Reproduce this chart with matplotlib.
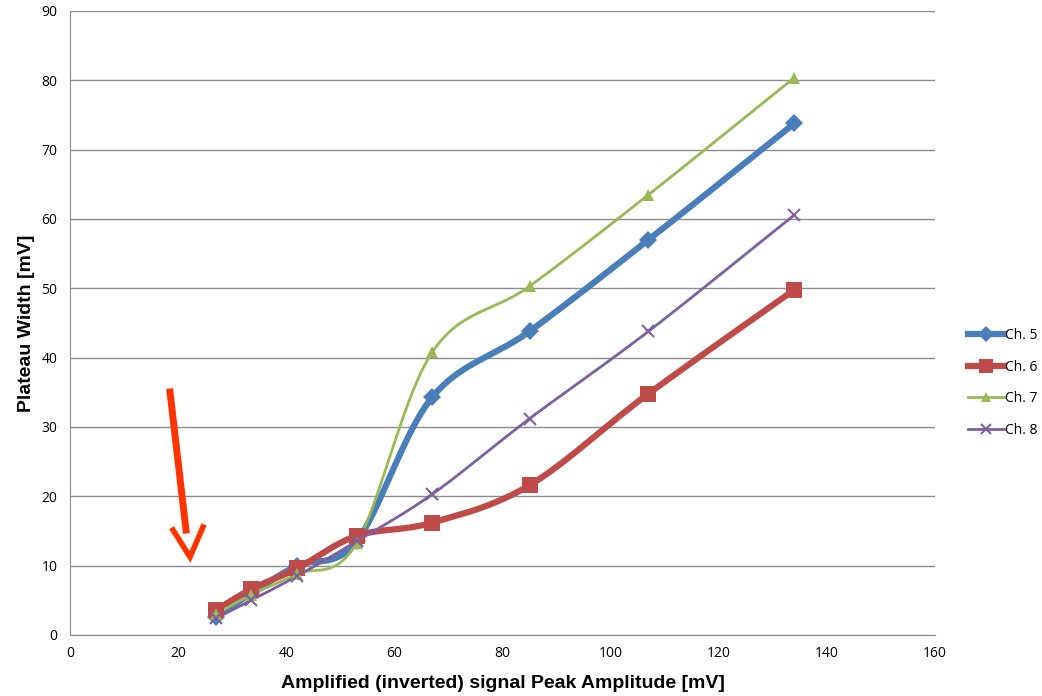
import numpy as np
import matplotlib
matplotlib.use("Agg")
import matplotlib.pyplot as plt
from matplotlib.lines import Line2D

plt.rcParams['font.family'] = ['Open Sans', 'DejaVu Sans']

amplitude = [27, 33.5, 42, 53, 67, 85, 107, 134]
ch5 = [2.6, 6.0, 10.0, 13.5, 34.3, 43.8, 57.0, 73.8]
ch6 = [3.6, 6.6, 9.6, 14.3, 16.2, 21.6, 34.8, 49.8]
ch7 = [3.0, 5.8, 8.8, 13.2, 40.8, 50.3, 63.5, 80.4]
ch8 = [2.4, 5.0, 8.5, 13.5, 20.3, 31.2, 43.8, 60.6]
labels = ['Ch. 5', 'Ch. 6', 'Ch. 7', 'Ch. 8']


def smooth(x, y, n=40):
    x = np.asarray(x, float); y = np.asarray(y, float)
    P = np.column_stack([x, y])
    out = [P[0]]
    for i in range(len(P) - 1):
        p0 = P[i - 1] if i > 0 else P[i]
        p1 = P[i]; p2 = P[i + 1]
        p3 = P[i + 2] if i + 2 < len(P) else P[i + 1]
        c1 = p1 + (p2 - p0) / 6.0
        c2 = p2 - (p3 - p1) / 6.0
        t = np.linspace(0, 1, n)[1:, None]
        b = ((1 - t) ** 3) * p1 + 3 * ((1 - t) ** 2) * t * c1 + 3 * (1 - t) * t ** 2 * c2 + t ** 3 * p2
        out.extend(b)
    out = np.array(out)
    return out[:, 0], out[:, 1]


fig = plt.figure(figsize=(10.42, 6.96), dpi=100)
ax = fig.add_axes([70 / 1042, 1 - 635 / 696, (935 - 70) / 1042, (635 - 11) / 696])

styles = [
    dict(color='#4A7EBB', lw=4.5, marker='D', ms=9.5, mew=0),
    dict(color='#BE4B48', lw=4.5, marker='s', ms=11.5, mew=0),
    dict(color='#98B954', lw=2.0, marker='^', ms=8, mew=0),
    dict(color='#7D60A0', lw=2.0, marker='x', ms=8, mew=1.5),
]
handles = []
for ys, st, lab in zip([ch5, ch6, ch7, ch8], styles, labels):
    sx, sy = smooth(amplitude, ys)
    ax.plot(sx, sy, color=st['color'], lw=st['lw'], solid_capstyle='round', zorder=3)
    ax.plot(amplitude, ys, ls='none', marker=st['marker'], ms=st['ms'], color=st['color'],
            mew=st['mew'], zorder=4)
    handles.append(Line2D([0], [0], color=st['color'], lw=st['lw'], marker=st['marker'],
                          ms=st['ms'] * 0.85, mew=st['mew']))

ax.set_xlim(0, 160)
ax.set_ylim(0, 90)
ax.set_xticks(range(0, 161, 20))
ax.set_yticks(range(0, 91, 10))
ax.yaxis.grid(True, color='#8C8C8C', lw=1.0)
ax.set_axisbelow(True)
for s in ['top', 'right']:
    ax.spines[s].set_visible(False)
for s in ['left', 'bottom']:
    ax.spines[s].set_color('#8C8C8C')
ax.tick_params(axis='both', labelsize=10, length=0)
ax.tick_params(axis='y', pad=9)
ax.tick_params(axis='x', pad=8)
ax.set_xlabel('Amplified (inverted) signal Peak Amplitude [mV]', fontsize=14, fontweight='bold',
              labelpad=10, family=['Liberation Sans', 'DejaVu Sans'])
ax.set_ylabel('Plateau Width [mV]', fontsize=14, fontweight='bold', labelpad=5,
              family=['Liberation Sans', 'DejaVu Sans'])

leg = fig.legend(handles, labels, loc='center left', bbox_to_anchor=(962 / 1042, 1 - 383 / 696),
                 frameon=False, fontsize=10, handlelength=2.6, labelspacing=1.2, borderaxespad=0,
                 handletextpad=0.1)

# red arrow annotation (figure pixel coordinates)
def fx(px):
    return px / 1042
def fy(py):
    return 1 - py / 696

arrow_col = '#FF3300'
fig.add_artist(Line2D([fx(170), fx(186)], [fy(392), fy(530)], color=arrow_col, lw=5,
                      transform=fig.transFigure))
fig.add_artist(Line2D([fx(173), fx(190), fx(203)], [fy(530), fy(557), fy(527)], color=arrow_col,
                      lw=4, transform=fig.transFigure, solid_joinstyle='miter'))

fig.savefig('out.png', dpi=100)
